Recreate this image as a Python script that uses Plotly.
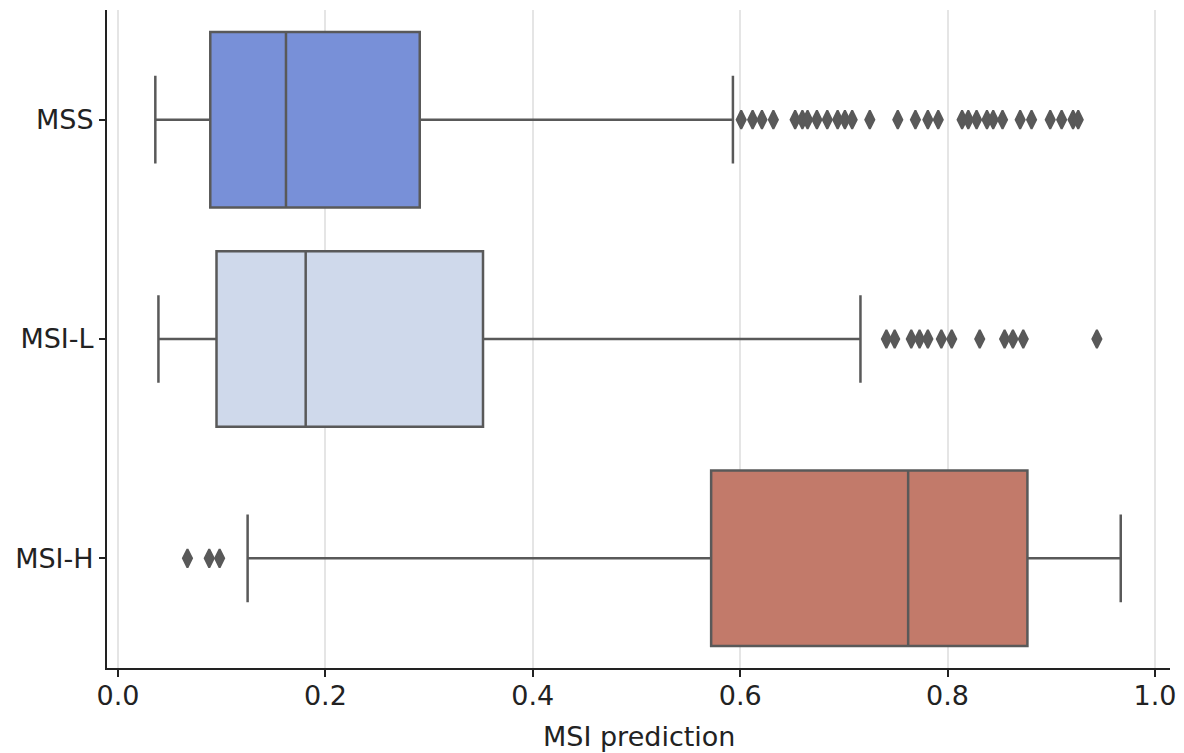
import plotly.graph_objects as go

categories = ["MSS", "MSI-L", "MSI-H"]
lower_whisker = [0.036, 0.039, 0.125]
q1_vals = [0.089, 0.095, 0.572]
median_vals = [0.162, 0.181, 0.762]
q3_vals = [0.291, 0.352, 0.877]
upper_whisker = [0.593, 0.716, 0.967]

outliers_mss = [0.601, 0.612, 0.621, 0.632, 0.653, 0.660, 0.665, 0.674, 0.684, 0.694,
                0.701, 0.708, 0.725, 0.752, 0.769, 0.781, 0.791, 0.814, 0.820, 0.828,
                0.838, 0.844, 0.853, 0.870, 0.881, 0.899, 0.910, 0.921, 0.926]
outliers_msil = [0.741, 0.749, 0.765, 0.773, 0.781, 0.794, 0.804, 0.831, 0.855, 0.863,
                 0.873, 0.944]
outliers_msih = [0.067, 0.088, 0.098]
outliers = [outliers_mss, outliers_msil, outliers_msih]

box_colors = ["#7890d8", "#cfd9eb", "#c27a6a"]
edge = "#595959"

fig = go.Figure()
for i, cat in enumerate(categories):
    fig.add_trace(go.Box(
        y=[cat], q1=[q1_vals[i]], median=[median_vals[i]], q3=[q3_vals[i]],
        lowerfence=[lower_whisker[i]], upperfence=[upper_whisker[i]],
        orientation="h", fillcolor=box_colors[i],
        line=dict(color=edge, width=2.5), width=0.8, whiskerwidth=0.5,
        boxpoints=False, showlegend=False, hoverinfo="skip"))
    fig.add_trace(go.Scatter(
        x=outliers[i], y=[cat] * len(outliers[i]), mode="markers",
        marker=dict(symbol="diamond-tall", size=13, color=edge,
                    line=dict(width=2, color=edge)),
        showlegend=False, hoverinfo="skip"))

fig.update_layout(
    width=1184, height=753,
    margin=dict(l=107, r=14, t=10, b=85),
    plot_bgcolor="white", paper_bgcolor="white",
    boxmode="overlay",
    font=dict(family="DejaVu Sans", size=27, color="#222"),
    xaxis=dict(
        range=[-0.0106, 1.0145], tickvals=[0, 0.2, 0.4, 0.6, 0.8, 1.0],
        ticktext=["0.0", "0.2", "0.4", "0.6", "0.8", "1.0"],
        ticklabeloverflow="allow", ticklabelstandoff=-4,
        showgrid=True, gridcolor="#e5e5e5", gridwidth=1.5,
        showline=True, linecolor="#222", linewidth=2,
        ticks="outside", ticklen=7, tickwidth=2, tickcolor="#222",
        zeroline=False, automargin=False),
    yaxis=dict(
        type="category", categoryorder="array", categoryarray=categories,
        range=[2.5, -0.5], showgrid=False, zeroline=False, automargin=False,
        showline=True, linecolor="#222", linewidth=2,
        ticks="outside", ticklen=6, tickwidth=2, tickcolor="#222"),
    annotations=[dict(text="MSI prediction", xref="paper", yref="paper",
                      x=0.5, y=0, xanchor="center", yanchor="middle",
                      yshift=-68, showarrow=False, font=dict(size=27))],
)

fig.write_html("out.html", config={"displayModeBar": False},
               post_script="document.body.style.margin='0';")
